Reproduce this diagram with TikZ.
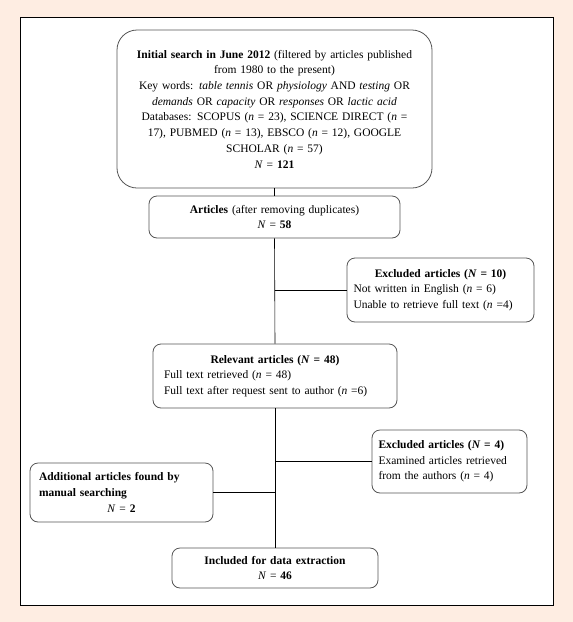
\documentclass[tikz,border=0pt]{standalone}
\usepackage{fontspec}
\setmainfont{Liberation Serif}
\definecolor{peach}{RGB}{254,237,226}
\definecolor{boxline}{RGB}{85,85,85}
\tikzset{
  box/.style={draw=boxline, line width=0.8pt, rounded corners=8pt, inner sep=0pt, align=center, font=\fontsize{11.5}{15.7}\selectfont},
  bigbox/.style={box, rounded corners=20pt},
  link/.style={draw=black, line width=0.6pt},
}
\newcommand{\lft}[1]{\makebox[\linewidth][l]{#1}}
\begin{document}
\begin{tikzpicture}[x=1pt,y=-1pt]
\useasboundingbox (0,0) rectangle (573,622);
\fill[peach] (0,0) rectangle (573,622);
\draw[fill=white, line width=1pt] (20,17) rectangle (553,605);

\node[bigbox, minimum width=315, minimum height=158, text width=305] (init) at (274.5,109)
 {\textbf{Initial search in June 2012} (filtered by articles published\\
  from 1980 to the present)\\
  Key words: \textit{table tennis} OR \textit{physiology} AND \textit{testing} OR\\
  \textit{demands} OR \textit{capacity} OR \textit{responses} OR \textit{lactic acid}\\
  Databases: SCOPUS (\textit{n} = 23), SCIENCE DIRECT (\textit{n} =\\
  17), PUBMED (\textit{n} = 13), EBSCO (\textit{n} = 12), GOOGLE\\
  SCHOLAR (\textit{n} = 57)\\
  \textit{N} = \textbf{121}};

\node[box, minimum width=251, minimum height=42, text width=240] (art) at (274.5,217)
 {\textbf{Articles} (after removing duplicates)\\ \textit{N} = \textbf{58}};

\node[box, minimum width=187, minimum height=64, text width=174] (ex1) at (440.5,290)
 {\textbf{Excluded articles (\textit{N} = 10)}\\
  \lft{Not written in English (\textit{n} = 6)}\\
  \lft{Unable to retrieve full text (\textit{n} =4)}};

\node[box, minimum width=244, minimum height=64, text width=222] (rel) at (275,376)
 {\textbf{Relevant articles (\textit{N} = 48)}\\
  \lft{Full text retrieved (\textit{n} = 48)}\\
  \lft{Full text after request sent to author (\textit{n} =6)}};

\node[box, minimum width=155, minimum height=63, text width=142] (ex2) at (449.5,461.5)
 {\lft{\textbf{Excluded articles (\textit{N} = 4)}}\\
  \lft{Examined articles retrieved}\\
  \lft{from the authors (\textit{n} = 4)}};

\node[box, minimum width=183, minimum height=59, text width=165] (add) at (121.5,492.5)
 {\lft{\textbf{Additional articles found by}}\\
  \lft{\textbf{manual searching}}\\
  \textit{N} = \textbf{2}};

\node[box, minimum width=206, minimum height=40, text width=190] (inc) at (275,568)
 {\textbf{Included for data extraction}\\ \textit{N} = \textbf{46}};

\draw[link] (init.south) -- (art.north);
\draw[link] (art.south) -- (rel.north);
\draw[link] (rel.south) -- (inc.north);
\draw[link] (art.south |- ex1.west) -- (ex1.west);
\draw[link] (rel.south |- ex2.west) -- (ex2.west);
\draw[link] (rel.south |- add.east) -- (add.east);
\end{tikzpicture}
\end{document}
